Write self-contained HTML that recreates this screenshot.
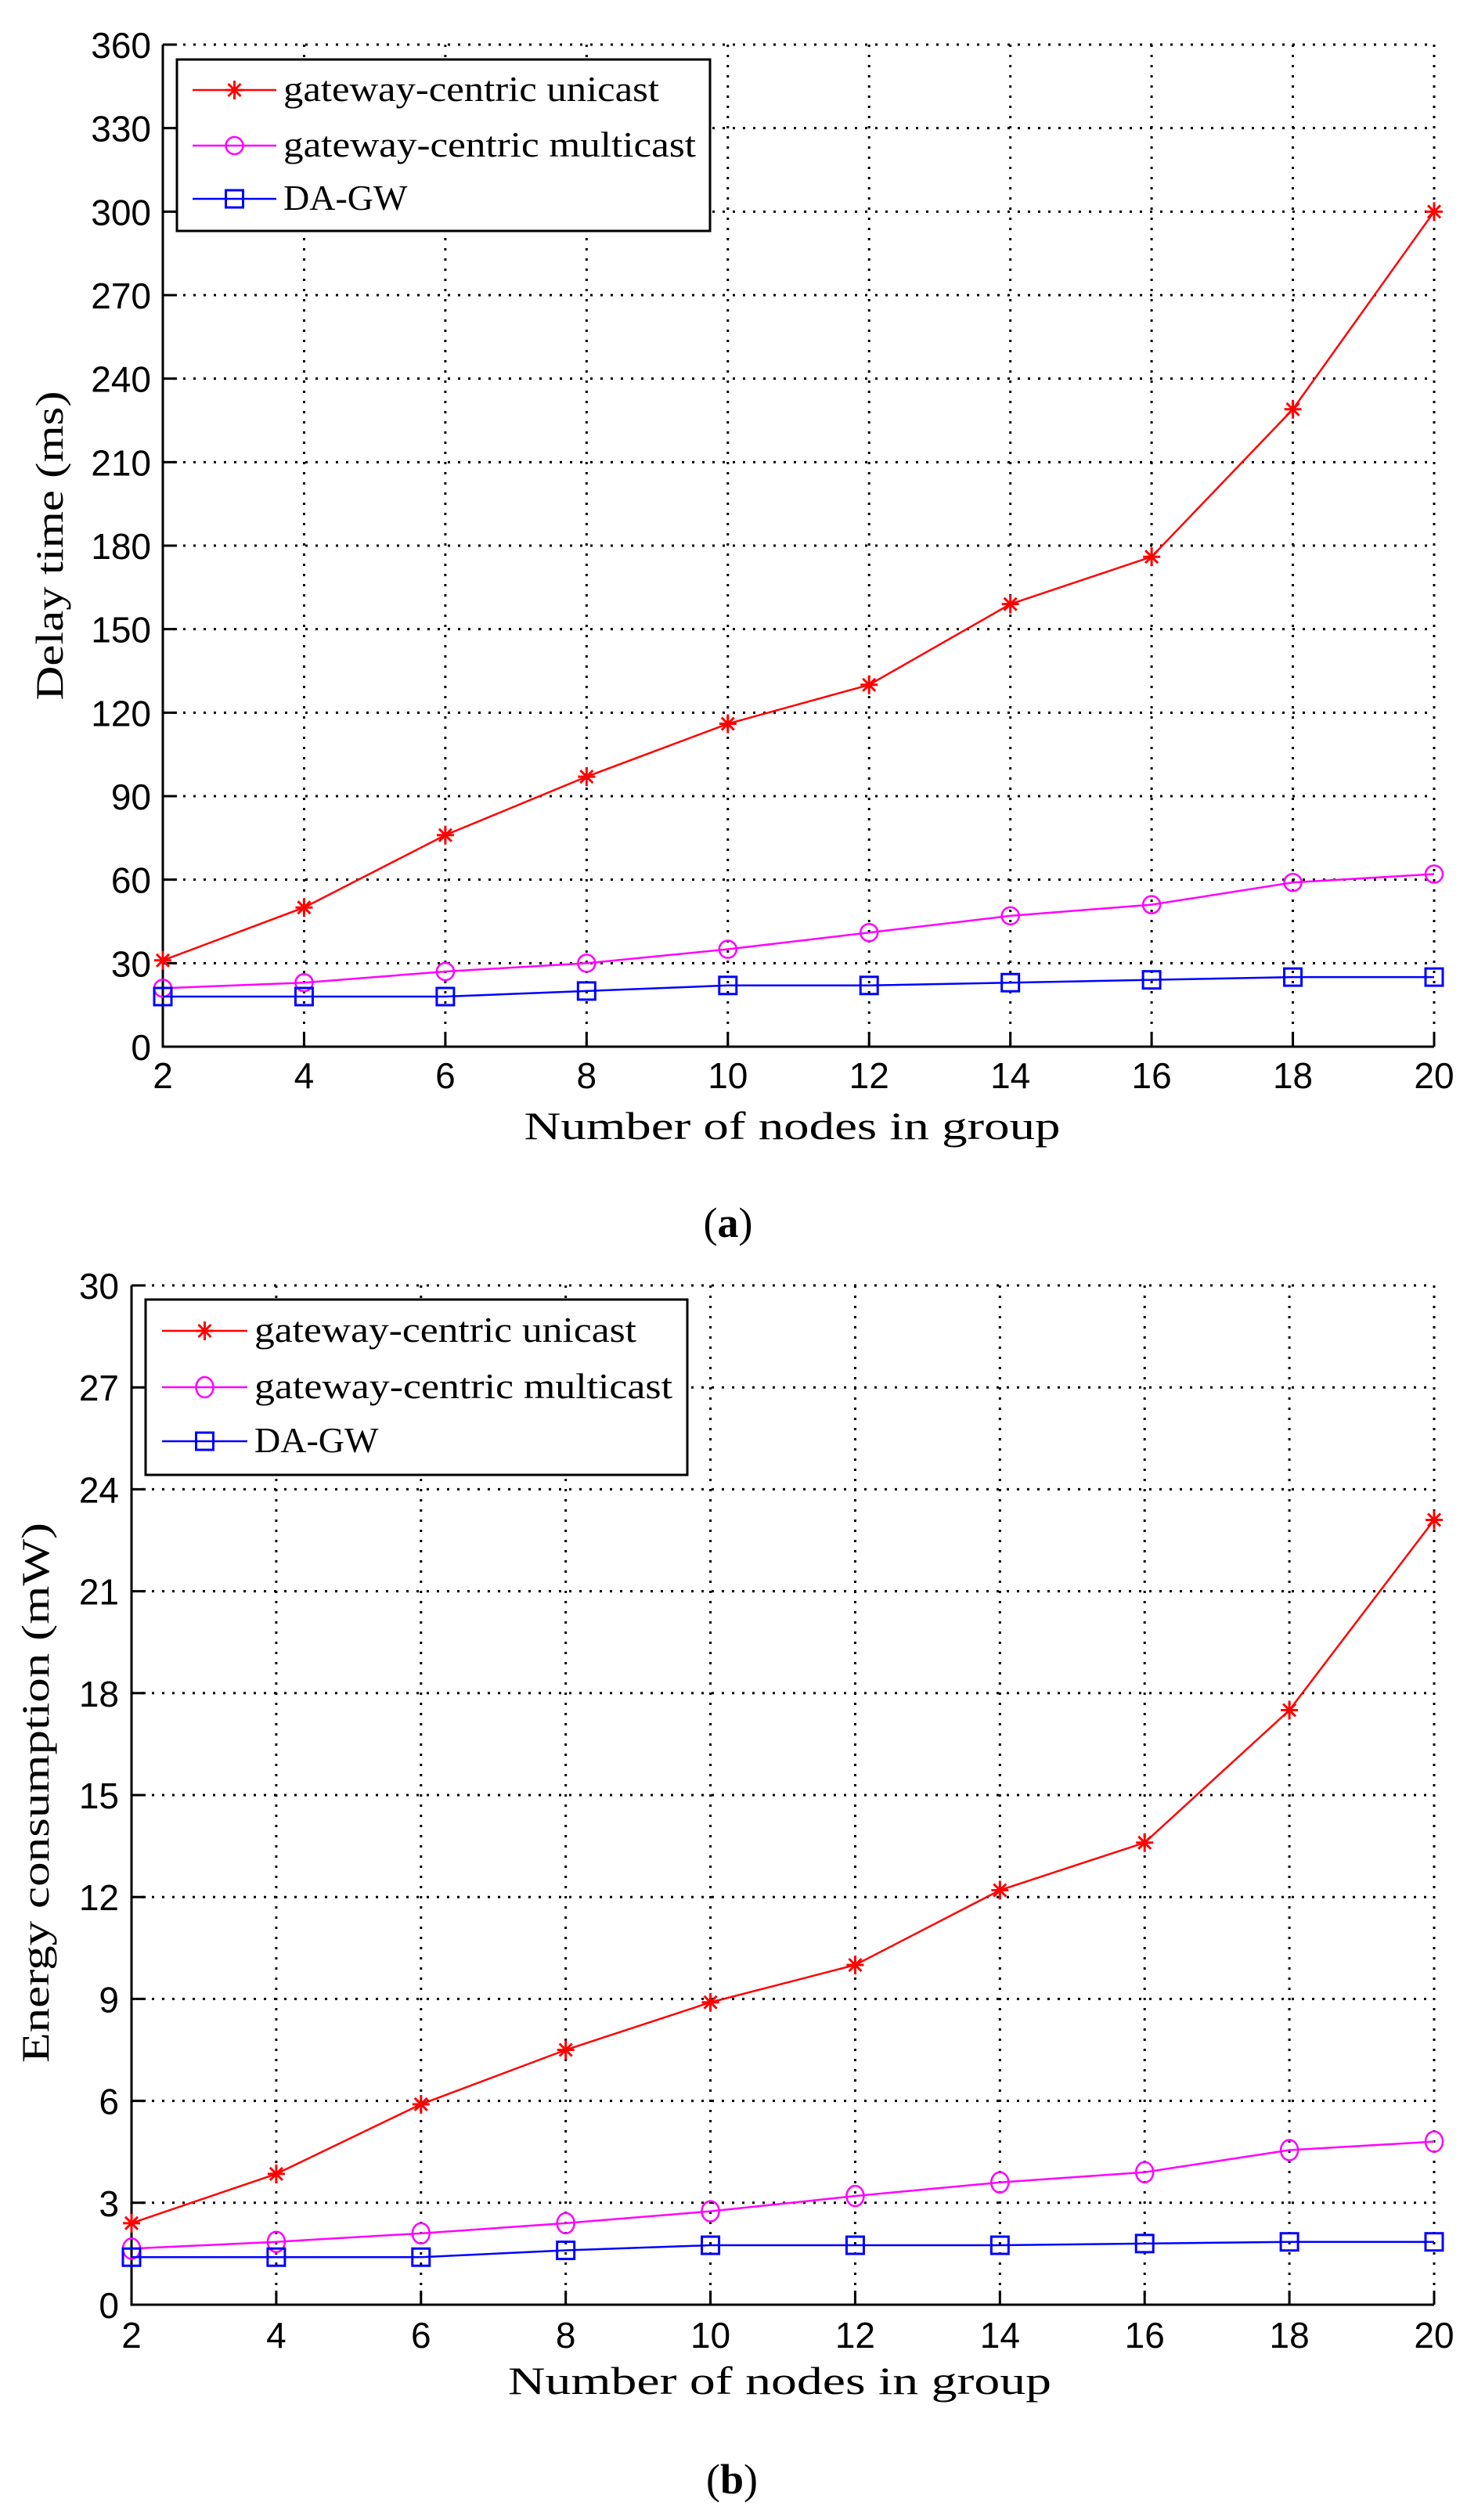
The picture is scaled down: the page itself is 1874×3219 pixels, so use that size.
<!DOCTYPE html>
<html><head><meta charset="utf-8"><style>
html,body{margin:0;padding:0;background:#fff;}
svg{display:block;}
.tk{font-family:"Liberation Sans",Arial,sans-serif;font-size:46px;fill:#000;}
.sr{font-family:"Liberation Serif",serif;fill:#000;}
</style></head><body>
<svg id="fig" width="1874" height="3219" viewBox="0 0 1874 3219" xmlns="http://www.w3.org/2000/svg"></svg>
<script>
const xCategories = [2,4,6,8,10,12,14,16,18,20];
const delayUnicast = [31,50,76,97,116,130,159,176,229,300];
const delayMulticast = [21,23,27,30,35,41,47,51,59,62];
const delayDAGW = [18,18,18,20,22,22,23,24,25,25];
const delayTicks = [0,30,60,90,120,150,180,210,240,270,300,330,360];
const energyUnicast = [2.4,3.85,5.9,7.5,8.9,10,12.2,13.6,17.5,23.1];
const energyMulticast = [1.65,1.85,2.1,2.4,2.75,3.2,3.6,3.9,4.55,4.8];
const energyDAGW = [1.4,1.4,1.4,1.6,1.75,1.75,1.75,1.8,1.85,1.85];
const energyTicks = [0,3,6,9,12,15,18,21,24,27,30];
const seriesNames = ["gateway-centric unicast","gateway-centric multicast","DA-GW"];

const NS="http://www.w3.org/2000/svg";
const svg=document.getElementById('fig');
function mk(tag,attrs,parent){const e=document.createElementNS(NS,tag);for(const k in attrs)e.setAttribute(k,attrs[k]);(parent||svg).appendChild(e);return e;}

function chart(cfg){
  const g=mk('g',{});
  
  
  const {L,R,T,B}=cfg;
  const ymax=cfg.ticks[cfg.ticks.length-1], ymin=cfg.ticks[0];
  const xs=v=>L+(v-xCategories[0])/(xCategories[xCategories.length-1]-xCategories[0])*(R-L);
  const ys=v=>B-(v-ymin)/(ymax-ymin)*(B-T);
  cfg.ticks.forEach((t,i)=>{
    if(i>0){const l=mk('line',{x1:L,x2:R,y1:ys(t),y2:ys(t),stroke:'#000','stroke-width':3,'stroke-dasharray':'3 10'},g);
    
    }
    const tk=mk('line',{x1:L,x2:L+18,y1:ys(t),y2:ys(t),stroke:'#000','stroke-width':3},g);
    
    
    const tx=mk('text',{x:cfg.tickRight,y:ys(t)+17,'text-anchor':'end',class:'tk'},g);
    tx.textContent=t;
    
    
  });
  xCategories.forEach((c,i)=>{
    if(i>0){const l=mk('line',{x1:xs(c),x2:xs(c),y1:T,y2:B,stroke:'#000','stroke-width':3,'stroke-dasharray':'3 10'},g);
    
    }
    const tk=mk('line',{x1:xs(c),x2:xs(c),y1:B,y2:B-18,stroke:'#000','stroke-width':3},g);
    
    
    const tx=mk('text',{x:xs(c),y:cfg.xTickY,'text-anchor':'middle',class:'tk'},g);
    tx.textContent=c;
    
    
  });
  const ax=mk('path',{d:`M${L},${T} L${L},${B} L${R},${B}`,fill:'none',stroke:'#000','stroke-width':3},g);
  
  
  const colors=['#ff0000','#ff00ff','#0000ff'];
  const kinds=['star','circle','square'];
  function marker(kind,x,y,col,par){
    const m=mk('g',{},par);
    
    
    if(kind==='star'){
      mk('path',{d:`M${x},${y-12}V${y+12}M${x-11},${y}H${x+11}M${x-8},${y-8}L${x+8},${y+8}M${x-8},${y+8}L${x+8},${y-8}`,stroke:col,'stroke-width':3},m);
    } else if(kind==='circle'){
      mk('ellipse',{cx:x,cy:y,rx:11,ry:cfg.ry,fill:'none',stroke:col,'stroke-width':2.5},m);
    } else {
      mk('rect',{x:x-11,y:y-11,width:22,height:22,fill:'none',stroke:col,'stroke-width':3},m);
    }
  }
  cfg.series.forEach((s,si)=>{
    const sg=mk('g',{},g);
    
    
    const pts=s.map((v,i)=>xs(xCategories[i])+','+ys(v)).join(' ');
    const pl=mk('polyline',{points:pts,fill:'none',stroke:colors[si],'stroke-width':2.5},sg);
    
    
    s.forEach((v,i)=>marker(kinds[si],xs(xCategories[i]),ys(v),colors[si],sg));
  });
  const lg=mk('g',{},g);
  
  
  const lb=cfg.legend;
  mk('rect',{x:lb.x,y:lb.y,width:lb.w,height:lb.h,fill:'#fff',stroke:'#000','stroke-width':3},lg);
  seriesNames.forEach((n,i)=>{
    const e=mk('g',{},lg);
    
    
    const y=lb.rows[i];
    mk('line',{x1:lb.l1,x2:lb.l2,y1:y,y2:y,stroke:colors[i],'stroke-width':2.5},e);
    marker(kinds[i],(lb.l1+lb.l2)/2,y,colors[i],e);
    const t=mk('text',{x:lb.tx,y:y+14,class:'sr','font-size':46},e);
    t.textContent=n;
    if(i<2){t.setAttribute('textLength',lb.tw[i]);t.setAttribute('lengthAdjust','spacingAndGlyphs');}
  });
  const xt=mk('text',{x:cfg.xTitle[0],y:cfg.xTitle[1],'text-anchor':'middle',class:'sr','font-size':50,textLength:cfg.xTitle[2],lengthAdjust:'spacingAndGlyphs'},g);
  xt.textContent='Number of nodes in group';
  
  
  const yt=mk('text',{x:0,y:0,'text-anchor':'middle',class:'sr','font-size':50,textLength:cfg.yTitle[2],lengthAdjust:'spacingAndGlyphs',transform:`translate(${cfg.yTitle[0]},${cfg.yTitle[1]}) rotate(-90)`},g);
  yt.textContent=cfg.yLabel;
  
  
  const cap=mk('text',{x:cfg.cap[0],y:cfg.cap[1],'text-anchor':'middle',class:'sr','font-size':54},g);
  cap.innerHTML='(<tspan font-weight="bold">'+cfg.capL+'</tspan>)';
  
  
}

chart({name:'delay-chart',L:208,R:1832,T:57,B:1337,ticks:delayTicks,tickRight:193,xTickY:1390,ry:11,
  series:[delayUnicast,delayMulticast,delayDAGW],
  legend:{x:226,y:76,w:681,h:219,rows:[115,186,254],l1:246,l2:353,tx:362,tw:[480,527]},
  xTitle:[1012,1455,685],yTitle:[80,697,395],yLabel:'Delay time (ms)',cap:[930,1580],capL:'a'});
chart({name:'energy-chart',L:168,R:1832,T:1642,B:2944,ticks:energyTicks,tickRight:152,xTickY:2999,ry:13,
  series:[energyUnicast,energyMulticast,energyDAGW],
  legend:{x:186,y:1660,w:692,h:224,rows:[1700,1772,1841],l1:207,l2:316,tx:325,tw:[488,534]},
  xTitle:[996,3058,694],yTitle:[62,2290,690],yLabel:'Energy consumption (mW)',cap:[935,3185],capL:'b'});
</script>
</body></html>
